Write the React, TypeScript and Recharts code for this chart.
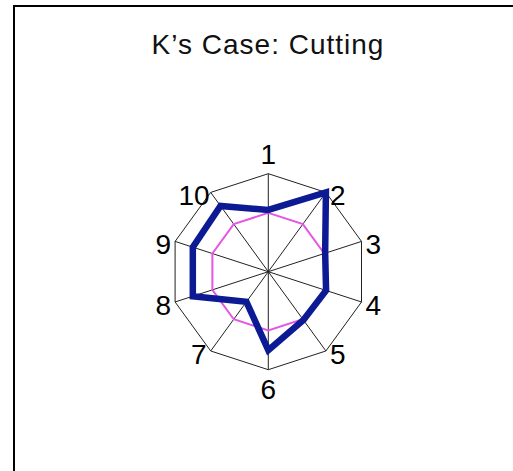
import React from "react";
import { RadarChart, Radar, PolarGrid, PolarAngleAxis, PolarRadiusAxis } from "recharts";

const categories = ["1", "2", "3", "4", "5", "6", "7", "8", "9", "10"];
const caseK = [3.15, 5, 3.05, 3.1, 3.05, 4, 1.9, 4.05, 4.05, 4.15];
const reference = [3, 3, 3, 3, 3, 3, 3, 3, 3, 3];
const radiusTicks = [0, 5];

const data = categories.map((c, i) => ({ name: c, k: caseK[i], ref: reference[i] }));

const W = 513;
const H = 471;
const CX = 268.3;
const CY = 271.7;
const R = 98;
const FONT = "'Liberation Sans', Arial, sans-serif";

const Tick = (props: any) => {
  const { x, y, payload } = props;
  const a = Math.atan2(CY - y, x - CX);
  const c = Math.cos(a);
  const s = Math.sin(a);
  const vx = CX + R * c;
  const vy = CY - R * s;
  let tx = vx;
  let cyText = vy + 3;
  let anchor: "start" | "end" | "middle" = "middle";
  if (Math.abs(c) < 0.1) {
    cyText = s > 0 ? vy - 20 : vy + 19;
  } else if (c > 0) {
    anchor = "start";
    tx = vx + 4;
  } else {
    anchor = "end";
    tx = vx - (payload.value === "10" ? 1 : 4);
  }
  return (
    <text x={tx} y={cyText + 10} textAnchor={anchor} fontSize={28} fontFamily={FONT} fill="#000">
      {payload.value}
    </text>
  );
};

export default function App() {
  return (
    <div style={{ position: "fixed", left: 0, top: 0, width: W, height: H, background: "#fff", overflow: "hidden" }}>
      <div style={{ position: "absolute", left: 13, top: 5, width: W - 13, height: 1.5, background: "#000" }} />
      <div style={{ position: "absolute", left: 13, top: 5, height: H - 5, width: 1.5, background: "#000" }} />
      <div
        style={{
          position: "absolute",
          left: 0,
          width: 536,
          top: 31,
          textAlign: "center",
          fontFamily: FONT,
          fontSize: 28,
          lineHeight: "28px",
          letterSpacing: 1,
          color: "#111",
        }}
      >
        K’s Case: Cutting
      </div>
      <div style={{ position: "absolute", left: 0, top: 0 }}>
        <RadarChart width={W} height={H} data={data} cx={CX} cy={CY} outerRadius={R} margin={{ top: 0, right: 0, bottom: 0, left: 0 }}>
          <PolarGrid gridType="polygon" stroke="#222" strokeWidth={1} />
          <PolarAngleAxis dataKey="name" tick={<Tick />} axisLine={false} tickLine={false} />
          <PolarRadiusAxis domain={[0, 5]} ticks={radiusTicks as any} tickCount={2} tick={false} axisLine={false} />
          <Radar dataKey="ref" stroke="#e456e4" strokeWidth={2} fill="none" fillOpacity={0} dot={false} isAnimationActive={false} />
          <Radar dataKey="k" stroke="#0c1a94" strokeWidth={6.5} strokeLinejoin="miter" fill="none" fillOpacity={0} dot={false} isAnimationActive={false} />
        </RadarChart>
      </div>
    </div>
  );
}
